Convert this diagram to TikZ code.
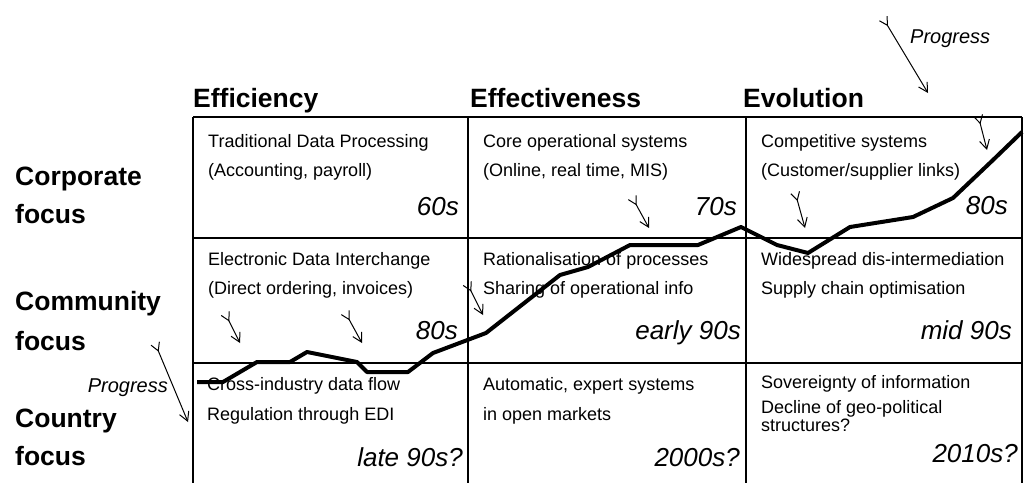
\documentclass[tikz,border=0pt]{standalone}
\usepackage{fontspec}
\setmainfont{Liberation Sans}
\usetikzlibrary{arrows.meta}
\begin{document}
\begin{tikzpicture}[x=1pt,y=-1pt,
  gridline/.style={line width=1.4pt},
  cell/.style={anchor=base west, font=\fontsize{18}{18}\selectfont, inner sep=0pt},
  decade/.style={anchor=base east, font=\fontsize{26}{26}\selectfont\itshape, inner sep=0pt},
  colhead/.style={anchor=base west, font=\fontsize{26.5}{26.5}\selectfont\bfseries, inner sep=0pt},
  rowhead/.style={anchor=base west, font=\fontsize{26.5}{26.5}\selectfont\bfseries, inner sep=0pt},
  proglabel/.style={font=\fontsize{20}{20}\selectfont\itshape, inner sep=0pt},
  trend/.style={line width=4pt, line join=round},
  flight/.style={line width=1pt,
    {Straight Barb[reversed,length=8pt,width=9pt]}-{Straight Barb[length=9pt,width=10pt]}}
]
\useasboundingbox (0,0) rectangle (1024,482);

% column headers
\node[colhead] (hEff) at (193,107) {Efficiency};
\node[colhead] (hEffv) at (470,107) {Effectiveness};
\node[colhead] (hEvo) at (743,107) {Evolution};

% row headers
\node[rowhead] (rCorpA) at (15,185) {Corporate};
\node[rowhead] (rCorpB) at (15,223) {focus};
\node[rowhead] (rCommA) at (15,310) {Community};
\node[rowhead] (rCommB) at (15,350) {focus};
\node[rowhead] (rCtryA) at (15,427) {Country};
\node[rowhead] (rCtryB) at (15,465) {focus};

% grid
\draw[gridline] (193,117) -- (1022,117);
\draw[gridline] (193,238) -- (1022,238);
\draw[gridline] (193,363) -- (1022,363);
\foreach \gx in {193,468,746,1022}
  \draw[gridline] (\gx,117) -- (\gx,484);

% row 1
\node[cell] (c11a) at (208,147) {Traditional Data Processing};
\node[cell] (c11b) at (208,176) {(Accounting, payroll)};
\node[decade] (c11d) at (459,215) {60s};
\node[cell] (c12a) at (483,147) {Core operational systems};
\node[cell] (c12b) at (483,176) {(Online, real time, MIS)};
\node[decade] (c12d) at (737,215) {70s};
\node[cell] (c13a) at (761,147) {Competitive systems};
\node[cell] (c13b) at (761,176) {(Customer/supplier links)};
\node[decade] (c13d) at (1008,214) {80s};

% row 2
\node[cell] (c21a) at (208,265) {Electronic Data Interchange};
\node[cell] (c21b) at (208,294) {(Direct ordering, invoices)};
\node[decade] (c21d) at (458,339) {80s};
\node[cell] (c22a) at (483,265) {Rationalisation of processes};
\node[cell] (c22b) at (483,294) {Sharing of operational info};
\node[decade] (c22d) at (741,339) {early 90s};
\node[cell] (c23a) at (761,265) {Widespread dis-intermediation};
\node[cell] (c23b) at (761,294) {Supply chain optimisation};
\node[decade] (c23d) at (1012,339) {mid 90s};

% row 3
\node[cell] (c31a) at (207,390) {Cross-industry data flow};
\node[cell] (c31b) at (207,420) {Regulation through EDI};
\node[decade] (c31d) at (463,466) {late 90s?};
\node[cell] (c32a) at (483,390) {Automatic, expert systems};
\node[cell] (c32b) at (483,420) {in open markets};
\node[decade] (c32d) at (740,466) {2000s?};
\node[cell] (c33a) at (761,388) {Sovereignty of information};
% wrapped two-line entry; its base anchor sits on the last line
\node[cell, align=left, font=\fontsize{18}{15}\selectfont] (c33b) at (761,431)
  {Decline of geo-political\\structures?};
\node[decade] (c33d) at (1018,462) {2010s?};

% progress trend line
\draw[trend] (197,382) -- (223,382) -- (257,362) -- (290,362) -- (307,352)
  -- (357,362) -- (367,372) -- (408,372) -- (433,353) -- (486,333)
  -- (560,275) -- (588,267) -- (630,245) -- (698,245) -- (741,227)
  -- (777,245) -- (808,253) -- (850,227) -- (913,217) -- (953,198)
  -- (993,160) -- (1022,132);

% progress labels and arrows
\node[proglabel, anchor=base west] (pTop) at (910,43) {Progress};
\node[proglabel, anchor=base east] (pLeft) at (168,392) {Progress};
\coordinate (ptS) at (883,18);  \coordinate (ptE) at (928,93);
\coordinate (plS) at (155,343); \coordinate (plE) at (188,422);
\draw[flight] (ptS) -- (ptE);
\draw[flight] (plS) -- (plE);

% small flight markers
\coordinate (f1S) at (632,197); \coordinate (f1E) at (649,228);
\coordinate (f2S) at (978,115); \coordinate (f2E) at (987,150);
\coordinate (f3S) at (795,192); \coordinate (f3E) at (805,228);
\coordinate (f4S) at (225,313); \coordinate (f4E) at (240,343);
\coordinate (f5S) at (345,312); \coordinate (f5E) at (362,343);
\coordinate (f6S) at (467,283); \coordinate (f6E) at (483,315);
\foreach \f in {1,...,6}
  \draw[flight] (f\f S) -- (f\f E);
\end{tikzpicture}
\end{document}
